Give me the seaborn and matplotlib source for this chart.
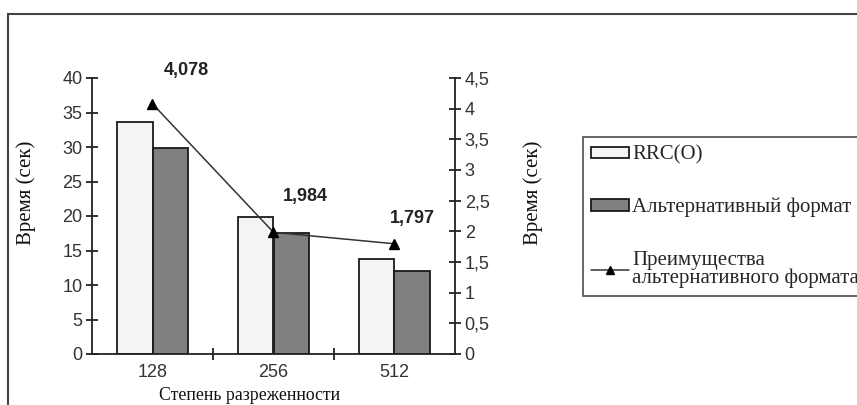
import numpy as np
import pandas as pd
import seaborn as sns
import matplotlib.pyplot as plt
from matplotlib.patches import Patch, Rectangle
from matplotlib.lines import Line2D
from matplotlib.ticker import FuncFormatter, FixedLocator

# data
sizes = ["128", "256", "512"]
rrc_time = [33.6, 19.8, 13.8]
alt_time = [29.8, 17.5, 12.1]
advantage = [4.078, 1.984, 1.797]
series_names = ["RRC(O)", "Альтернативный формат"]
line_name = "Преимущества\nальтернативного формата"

sns.set_theme(style="white")
plt.rcParams['font.family'] = ['Liberation Sans', 'DejaVu Sans']

df = pd.DataFrame({
    "size": sizes * 2,
    "time": rrc_time + alt_time,
    "series": [series_names[0]] * 3 + [series_names[1]] * 3,
})

fig = plt.figure(figsize=(8.57, 4.05), dpi=100)
ax = fig.add_axes([92 / 857, 1 - 354 / 405, (455 - 92) / 857, (354 - 78) / 405])

colors = ["#f4f4f4", "#808080"]
sns.barplot(data=df, x="size", y="time", hue="series", palette=colors,
            width=0.58, edgecolor="#1a1a1a", linewidth=1.3, ax=ax, legend=False)

ax.set_xlim(-0.5, 2.5)
ax.set_ylim(0, 40)
ax.set_yticks(np.arange(0, 41, 5))
ax.tick_params(axis="y", direction="inout", length=8, width=1.3, color="#222222",
               labelsize=13, labelcolor="#333333", pad=3, left=True)
ax.tick_params(axis="x", which="major", length=0, labelsize=13, labelcolor="#333333", pad=7)
ax.xaxis.set_minor_locator(FixedLocator([0.5, 1.5]))
ax.tick_params(axis="x", which="minor", direction="inout", length=8, width=1.3,
               color="#222222", bottom=True)
for side in ["top", "right"]:
    ax.spines[side].set_visible(False)
for side in ["left", "bottom"]:
    ax.spines[side].set_color("#222222")
    ax.spines[side].set_linewidth(1.3)

serif = ['Liberation Serif', 'DejaVu Serif']
ax.set_ylabel("Время (сек)", family=serif, fontsize=15, color="#111111")
ax.yaxis.set_label_coords(-0.155, 0.583)
ax.set_xlabel("Степень разреженности", family=serif, fontsize=12.8, color="#111111")
ax.xaxis.set_label_coords(0.435, -0.12)

ax2 = ax.twinx()
ax2.plot(range(len(sizes)), advantage, color="#333333", linewidth=1.1,
         marker="^", markersize=6.5, markerfacecolor="black", markeredgecolor="black")
ax2.set_ylim(0, 4.5)
ax2.set_yticks(np.arange(0, 4.51, 0.5))
ax2.yaxis.set_major_formatter(FuncFormatter(lambda v, p: f"{v:g}".replace(".", ",")))
ax2.tick_params(axis="y", direction="inout", length=8, width=1.3, color="#222222",
                labelsize=13, labelcolor="#333333", pad=3, right=True)
for side in ["top", "left", "bottom"]:
    ax2.spines[side].set_visible(False)
ax2.spines["right"].set_color("#222222")
ax2.spines["right"].set_linewidth(1.3)
ax2.set_ylabel("Время (сек)", family=serif, fontsize=15, color="#111111")
ax2.yaxis.set_label_coords(1.187, 0.583)
ax2.grid(False)
ax.grid(False)

label_offsets = [(24, 24), (23, 26), (13, 18)]
for i, v in enumerate(advantage):
    ax2.annotate(f"{v:.3f}".replace(".", ","), (i, v), xytext=label_offsets[i],
                 textcoords="offset points", ha="center", va="center",
                 fontsize=13, fontweight="bold", color="#222222")

# legend
handles = [
    Patch(facecolor=colors[0], edgecolor="#1a1a1a", linewidth=1.3),
    Patch(facecolor=colors[1], edgecolor="#1a1a1a", linewidth=1.3),
    Line2D([], [], color="#333333", linewidth=1.1, marker="^", markersize=5.5,
           markerfacecolor="black", markeredgecolor="black"),
]
leg = fig.legend(handles, series_names + [line_name], loc="upper left",
                 bbox_to_anchor=(583 / 857, 1 - 137 / 405), frameon=True,
                 prop={"family": serif, "size": 15}, labelspacing=1.6,
                 handlelength=1.8, handleheight=0.45, handletextpad=0.15,
                 borderpad=0.4, borderaxespad=0, fancybox=False)
for t in leg.get_texts():
    t.set_linespacing(0.88)
leg.get_frame().set_edgecolor("#333333")
leg.get_frame().set_linewidth(1.3)

# outer frame of the picture
fig.patches.append(Rectangle((8 / 857, -0.1), 1.1, 1 - 14 / 405 + 0.1,
                             transform=fig.transFigure, fill=False,
                             edgecolor="#444444", linewidth=1.5))

fig.savefig("out.png", dpi=100)
